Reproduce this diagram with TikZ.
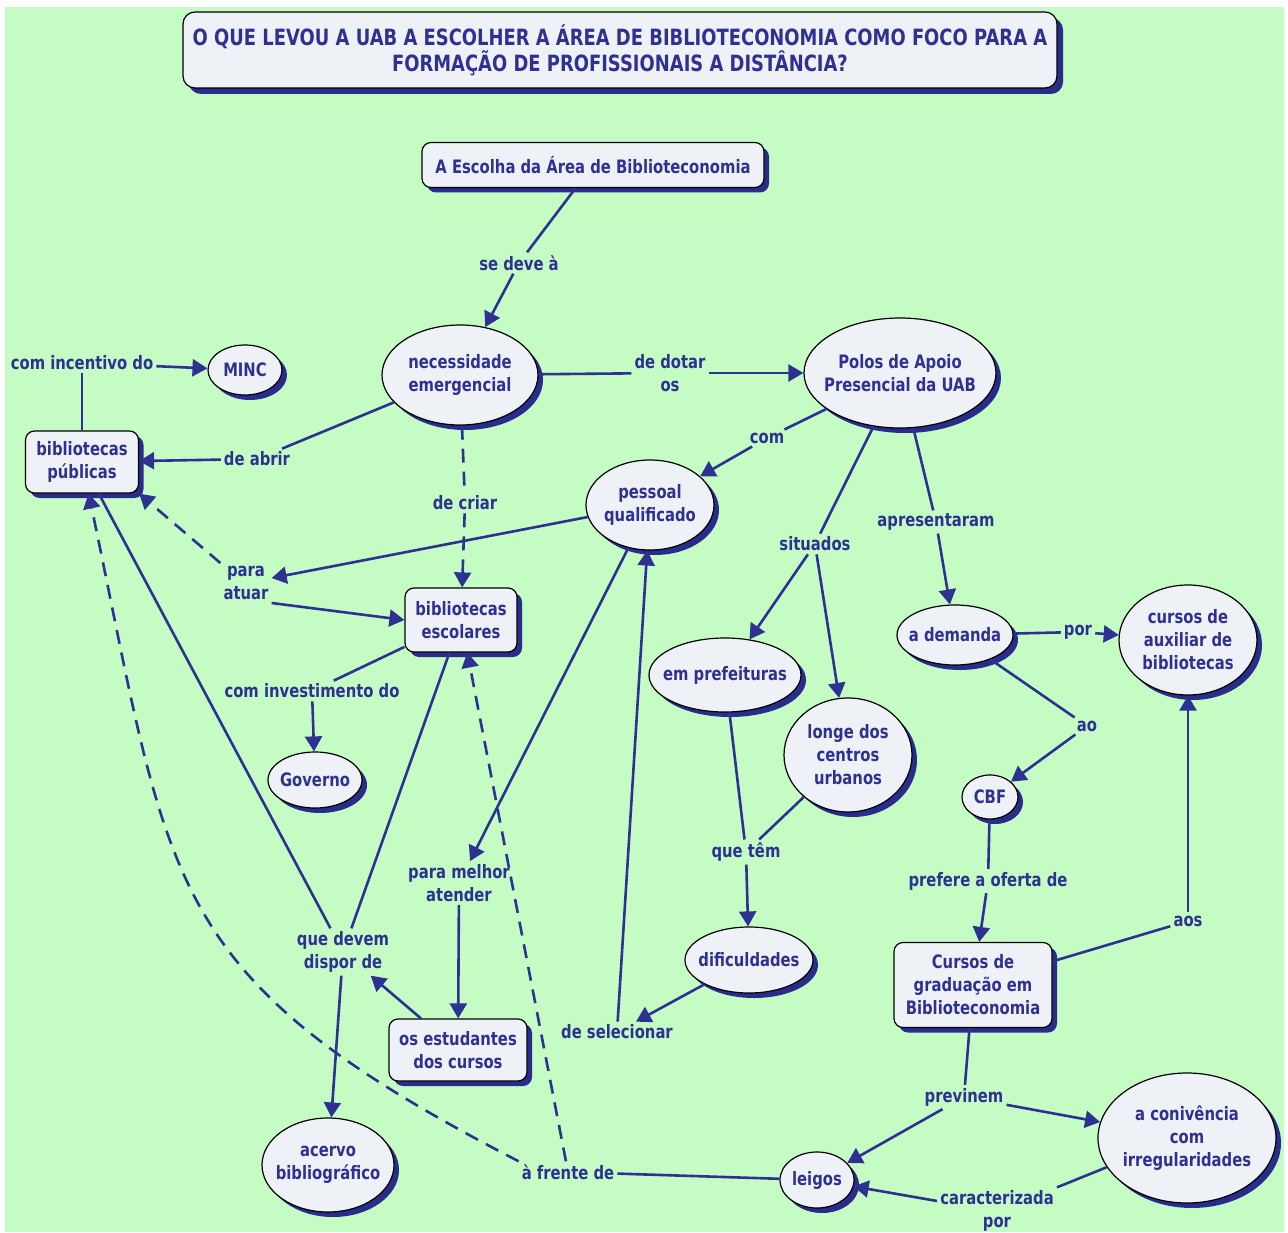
\documentclass[tikz,border=0pt]{standalone}
\usepackage{fontspec}
\setmainfont{DejaVu Sans}[FakeStretch=0.80]
\usetikzlibrary{arrows.meta,shapes.geometric,shadows}
\definecolor{bg}{RGB}{196,252,196}
\definecolor{tblue}{RGB}{46,49,146}
\definecolor{sblue}{RGB}{42,44,140}
\definecolor{nfill}{RGB}{238,242,246}
\newcommand\cpt[5]{\node[concept,minimum width=#3pt,minimum height=#4pt] (#1) at (#2) {};
  \node[ctext] (#1-t) at (#1) {#5};}
\begin{document}
\begin{tikzpicture}[x=1pt,y=-1pt,
  every node/.style={font=\bfseries\fontsize{18.5}{23}\selectfont, text=tblue},
  shad/.style={drop shadow={shadow xshift=5pt,shadow yshift=-5pt,fill=sblue,opacity=1}},
  concept/.style={ellipse, draw=black, line width=1.2pt, fill=nfill, shad, inner sep=0pt},
  cbox/.style={rectangle, rounded corners=9pt, draw=black, line width=1.2pt, fill=nfill, shad, inner sep=3pt, align=center},
  ctext/.style={align=center, inner sep=0pt},
  lk/.style={align=center, inner sep=3pt},
  ln/.style={draw=tblue, line width=2.6pt},
  arr/.style={ln, -{Triangle[length=15pt,width=17pt]}},
  dsh/.style={dash pattern=on 14pt off 9pt},
]
\useasboundingbox (0,0) rectangle (1288,1233);
\fill[white] (0,0) rectangle (1288,1233);
\fill[bg] (5,7) rectangle (1284,1232);

% title and boxes
\node[cbox, minimum width=874pt, minimum height=76pt, rounded corners=12pt,
  font=\bfseries\fontsize{22.4}{26}\selectfont,
  drop shadow={shadow xshift=6pt,shadow yshift=-6pt,fill=sblue,opacity=1}] (title) at (620,50)
  {O QUE LEVOU A UAB A ESCOLHER A ÁREA DE BIBLIOTECONOMIA COMO FOCO PARA A\\FORMAÇÃO DE PROFISSIONAIS A DISTÂNCIA?};
\node[cbox, minimum width=342pt, minimum height=45pt] (escolha) at (593,165) {A Escolha da Área de Biblioteconomia};
\node[cbox, minimum width=113pt, minimum height=62pt] (bpublicas) at (82,462) {bibliotecas\\públicas};
\node[cbox, minimum width=112pt, minimum height=64pt] (bescolares) at (461,620) {bibliotecas\\escolares};
\node[cbox, minimum width=158pt, minimum height=85pt] (cursosgrad) at (973,985) {Cursos de\\graduação em\\Biblioteconomia};
\node[cbox, minimum width=138pt, minimum height=62pt] (estudantes) at (458,1050) {os estudantes\\dos cursos};

% concepts
\cpt{necess}{460,375}{156}{100}{necessidade\\emergencial}
\cpt{polos}{900,373}{192}{110}{Polos de Apoio\\Presencial da UAB}
\cpt{minc}{245,370}{74}{50}{MINC}
\cpt{pessoal}{650,505}{128}{90}{pessoal\\qualificado}
\cpt{governo}{315,780}{94}{56}{Governo}
\cpt{prefeituras}{725,675}{152}{74}{em prefeituras}
\cpt{longe}{848,755}{128}{114}{longe dos\\centros\\urbanos}
\cpt{demanda}{955,635}{116}{60}{a demanda}
\cpt{auxiliar}{1188,640}{138}{110}{cursos de\\auxiliar de\\bibliotecas}
\cpt{cbf}{990,797}{56}{44}{CBF}
\cpt{dificuldades}{749,960}{128}{66}{dificuldades}
\cpt{acervo}{328,1165}{132}{94}{acervo\\bibliográfico}
\cpt{leigos}{817,1180}{74}{56}{leigos}
\cpt{conivencia}{1187,1138}{178}{130}{a conivência\\com\\irregularidades}

% linking phrases
\node[lk] (sedeve) at (519,263) {se deve à};
\node[lk] (dedotar) at (670,373) {de dotar\\os};
\node[lk] (comincentivo) at (82,363) {com incentivo do};
\node[lk] (deabrir) at (257,459) {de abrir};
\node[lk] (decriar) at (465,503) {de criar};
\node[lk] (com) at (767,438) {com};
\node[lk] (paraatuar) at (246,583) {para\\atuar};
\node[lk] (situados) at (815,544) {situados};
\node[lk] (apresentaram) at (936,522) {apresentaram};
\node[lk] (cominvest) at (312,691) {com investimento do};
\node[lk] (por) at (1078,632) {por};
\node[lk] (ao) at (1087,726) {ao};
\node[lk] (quetem) at (746,852) {que têm};
\node[lk] (prefere) at (988,881) {prefere a oferta de};
\node[lk] (paramelhor) at (459,883) {para melhor\\atender};
\node[lk] (quedevem) at (343,952) {que devem\\dispor de};
\node[lk] (aos) at (1188,921) {aos};
\node[lk] (deselecionar) at (617,1032) {de selecionar};
\node[lk] (previnem) at (964,1097) {previnem};
\node[lk] (frente) at (568,1172) {à frente de};
\node[lk] (caracterizada) at (997,1211) {caracterizada\\por};

% connectors
\draw[ln] (escolha) -- (sedeve);
\draw[arr] (sedeve) -- (necess);
\draw[ln] (necess) -- (dedotar);
\draw[arr] (dedotar) -- (polos);
\draw[ln] (necess) -- (deabrir);
\draw[arr] (deabrir) -- (bpublicas);
\draw[ln,dsh] (necess) -- (decriar);
\draw[arr,dsh] (decriar) -- (bescolares);
\draw[ln] (bpublicas) -- (comincentivo);
\draw[arr] (comincentivo) -- (minc);
\draw[ln] (polos) -- (com);
\draw[arr] (com) -- (pessoal);
\draw[arr] (pessoal) -- (paraatuar);
\draw[arr] (paraatuar.south east) -- (bescolares.west);
\draw[arr,dsh] (paraatuar.north west) -- (bpublicas.south east);
\draw[ln] (polos) -- (situados);
\draw[arr] (situados) -- (prefeituras);
\draw[arr] (situados) -- (longe);
\draw[ln] (polos) -- (apresentaram);
\draw[arr] (apresentaram) -- (demanda);
\draw[ln] (bescolares) -- (cominvest);
\draw[arr] (cominvest) -- (governo);
\draw[ln] (demanda) -- (por);
\draw[arr] (por) -- (auxiliar);
\draw[ln] (demanda) -- (ao);
\draw[arr] (ao) -- (cbf);
\draw[ln] (prefeituras) -- (quetem);
\draw[ln] (longe) -- (quetem);
\draw[arr] (quetem) -- (dificuldades);
\draw[ln] (cbf) -- (prefere);
\draw[arr] (prefere) -- (cursosgrad);
\draw[ln] (cursosgrad) -- (aos);
\draw[arr] (aos) -- (auxiliar);
\draw[arr] (pessoal) -- (paramelhor);
\draw[arr] (paramelhor) -- (estudantes);
\draw[ln] (bpublicas) -- (quedevem);
\draw[ln] (bescolares) -- (quedevem);
\draw[arr] (quedevem) -- (acervo);
\draw[arr] (estudantes) -- (quedevem);
\draw[arr] (dificuldades) -- (deselecionar);
\draw[arr] (deselecionar) -- (pessoal);
\draw[ln] (cursosgrad) -- (previnem);
\draw[arr] (previnem) -- (leigos);
\draw[arr] (previnem) -- (conivencia);
\draw[ln] (conivencia.200) -- (caracterizada.north east);
\draw[arr] ([yshift=10pt]caracterizada.west) -- (leigos);
\draw[ln] (leigos) -- (frente);
\draw[arr,dsh] (frente) -- (bescolares);
\draw[arr,dsh] (frente.north west) .. controls (159,975) and (172,889) .. (bpublicas);
\end{tikzpicture}
\end{document}
